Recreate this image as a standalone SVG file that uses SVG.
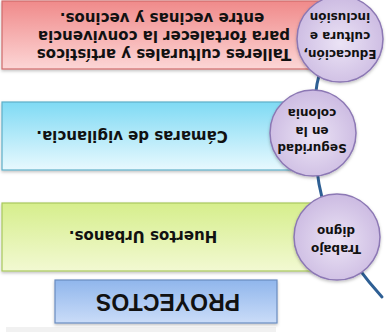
<svg xmlns="http://www.w3.org/2000/svg" width="386" height="332" viewBox="0 0 386 332">
<style>
.t{font-family:"DejaVu Sans",Verdana,sans-serif;font-weight:bold;fill:#111;text-anchor:middle}
.main{font-size:15px}
.circ{font-size:12px}
.title{font-family:"Liberation Sans",Arial,sans-serif;font-weight:bold;font-size:23px;fill:#111;text-anchor:middle}
.node{fill:url(#gc);stroke:#8c78b4;stroke-width:1.5}
</style>
<defs>
<linearGradient id="gr" x1="0" y1="0" x2="0" y2="1"><stop offset="0" stop-color="#fcd6d6"/><stop offset="1" stop-color="#f08a8a"/></linearGradient>
<linearGradient id="gb" x1="0" y1="0" x2="0" y2="1"><stop offset="0" stop-color="#e8f9fe"/><stop offset="1" stop-color="#7fdaf4"/></linearGradient>
<linearGradient id="gg" x1="0" y1="0" x2="0" y2="1"><stop offset="0" stop-color="#f2f9d2"/><stop offset="1" stop-color="#d6ee8c"/></linearGradient>
<linearGradient id="gp" x1="0" y1="0" x2="0" y2="1"><stop offset="0" stop-color="#cadcf8"/><stop offset="1" stop-color="#90b6ec"/></linearGradient>
<radialGradient id="gc" cx="0.5" cy="0.45" r="0.6"><stop offset="0" stop-color="#ebe3f5"/><stop offset="1" stop-color="#c9b7e0"/></radialGradient>
<filter id="sh" x="-10%" y="-10%" width="120%" height="130%"><feDropShadow dx="0" dy="-1.5" stdDeviation="1.5" flood-color="#000" flood-opacity="0.25"/></filter>
</defs>
<g transform="rotate(180 193 166)">
<rect x="110" y="0" width="270" height="5" fill="#888" opacity="0.12"/>
<g id="proyectos">
<rect x="109" y="9" width="222" height="43" fill="url(#gp)" stroke="#6a8cc0" stroke-width="1.2" filter="url(#sh)"/>
<text class="title" x="218" y="38.5">PROYECTOS</text>
</g>
<g id="box-huertos">
<rect x="55" y="61" width="329" height="68" fill="url(#gg)" stroke="#a8c85e" stroke-width="1.2" filter="url(#sh)"/>
<text class="t main" x="243" y="101">Huertos Urbanos.</text>
</g>
<g id="box-camaras">
<rect x="80" y="162" width="304" height="68" fill="url(#gb)" stroke="#5fb0c8" stroke-width="1.2" filter="url(#sh)"/>
<text class="t main" x="254" y="201">Cámaras de vigilancia.</text>
</g>
<g id="box-talleres">
<rect x="55" y="263" width="329" height="68" fill="url(#gr)" stroke="#cf6b6b" stroke-width="1.2" filter="url(#sh)"/>
<text class="t main" x="222" y="283">Talleres culturales y artísticos</text>
<text class="t main" x="222" y="301">para fortalecer la convivencia</text>
<text class="t main" x="224" y="319">entre vecinas y vecinos.</text>
</g>
<g id="connectors">
<path d="M4 35 Q58 95 67 148 Q76 205 69 248 Q62 282 46 293" fill="none" stroke="#2e5f94" stroke-width="3" stroke-linecap="round"/>
</g>
<g id="circle-trabajo">
<circle class="node" cx="49" cy="95" r="43" filter="url(#sh)"/>
<text class="t circ" x="50" y="87">Trabajo</text>
<text class="t circ" x="50" y="105">digno</text>
</g>
<g id="circle-seguridad">
<circle class="node" cx="73" cy="199" r="43" filter="url(#sh)"/>
<text class="t circ" x="74" y="188">Seguridad</text>
<text class="t circ" x="74" y="205.5">en la</text>
<text class="t circ" x="74" y="223">colonia</text>
</g>
<g id="circle-educacion">
<circle class="node" cx="46" cy="293" r="43" filter="url(#sh)"/>
<text class="t circ" x="46" y="282">Educación,</text>
<text class="t circ" x="46" y="300">cultura e</text>
<text class="t circ" x="46" y="319">inclusión</text>
</g>
</g>
</svg>
